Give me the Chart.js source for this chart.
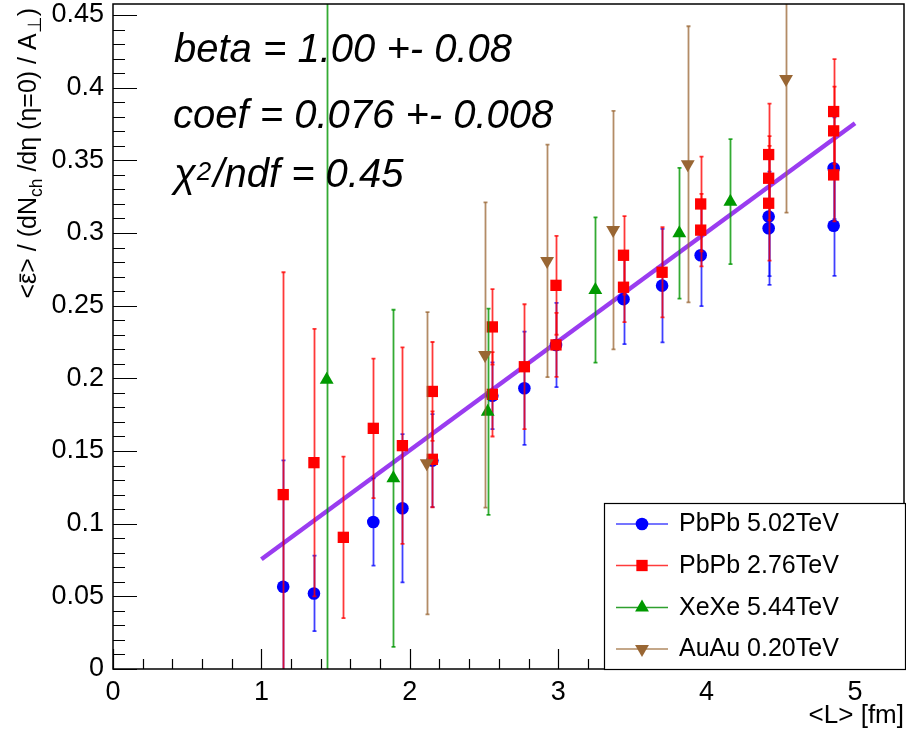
<!DOCTYPE html>
<html><head><meta charset="utf-8">
<script src="https://cdn.jsdelivr.net/npm/chart.js@4/dist/chart.umd.min.js"></script>
<style>html,body{margin:0;padding:0;background:#fff}#wrap{width:906px;height:733px;position:relative}</style>
</head><body><div id="wrap"><canvas id="c" width="906" height="733"></canvas></div>
<script>
// ---------- data ----------
const xTickValues = [0, 1, 2, 3, 4, 5];
const xTickLabels = ['0', '1', '2', '3', '4', '5'];
const yTickValues = [0, 0.05, 0.1, 0.15, 0.2, 0.25, 0.3, 0.35, 0.4, 0.45];
const yTickLabels = ['0', '0.05', '0.1', '0.15', '0.2', '0.25', '0.3', '0.35', '0.4', '0.45'];

const seriesNames = ['PbPb 5.02TeV', 'PbPb 2.76TeV', 'XeXe 5.44TeV', 'AuAu 0.20TeV'];

const pb502X = [1.147, 1.354, 1.754, 1.95, 2.152, 2.556, 2.772, 2.985, 3.44, 3.70, 3.96, 4.418, 4.418, 4.856, 4.856];
const pb502Y = [0.0566, 0.052, 0.1012, 0.1106, 0.1434, 0.188, 0.1932, 0.223, 0.2545, 0.2638, 0.2847, 0.3113, 0.3033, 0.3446, 0.305];
const pb502E = [0.087, 0.026, 0.030, 0.051, 0.032, 0.023, 0.039, 0.029, 0.031, 0.039, 0.035, 0.041, 0.039, 0.035, 0.0345];

const pb276X = [1.147, 1.354, 1.552, 1.754, 1.95, 2.152, 2.152, 2.556, 2.556, 2.772, 2.985, 2.985, 3.44, 3.44, 3.70, 3.96, 3.96, 4.418, 4.418, 4.418, 4.856, 4.856, 4.856];
const pb276Y = [0.120, 0.142, 0.0906, 0.1656, 0.1537, 0.191, 0.1443, 0.2354, 0.189, 0.208, 0.264, 0.223, 0.2847, 0.2627, 0.273, 0.320, 0.302, 0.354, 0.3377, 0.3205, 0.3836, 0.3703, 0.340];
const pb276E = [0.153, 0.092, 0.0556, 0.048, 0.0676, 0.034, 0.033, 0.026, 0.029, 0.043, 0.034, 0.022, 0.027, 0.024, 0.031, 0.0326, 0.025, 0.035, 0.029, 0.0395, 0.036, 0.0305, 0.032];

const xexeX = [1.44, 1.889, 2.525, 3.25, 3.816, 4.16];
const xexeY = [0.199, 0.1312, 0.177, 0.2608, 0.2998, 0.3216];
const xexeE = [0.30, 0.116, 0.071, 0.050, 0.045, 0.043];

const auauX = [2.114, 2.507, 2.925, 3.37, 3.873, 4.535];
const auauY = [0.1416, 0.2161, 0.2808, 0.302, 0.3473, 0.406];
const auauE = [0.104, 0.105, 0.080, 0.082, 0.095, 0.092];

const fitX = [1, 5];
const fitY = [0.0755, 0.3755];

const fitLines = ['beta = 1.00 +- 0.08', 'coef = 0.076 +- 0.008'];
const chiText = ['\u03C7', '2', '/ndf = 0.45'];

// ---------- helpers ----------
const toPts = (xs, ys) => xs.map((x, i) => ({x: x, y: ys[i]}));
const FONT = '"Liberation Sans", Arial, Helvetica, sans-serif';

const styles = [
  {mk: '#0000ff', bar: 'rgba(0,0,255,0.75)', leg: '#4747ff', ps: 'circle', r: 6.3, rot: 0},
  {mk: '#ff0000', bar: 'rgba(255,0,0,0.78)', leg: '#ff3b3b', ps: 'rect', r: 8, rot: 0},
  {mk: '#009900', bar: 'rgba(0,150,0,0.8)', leg: '#2ea02e', ps: 'triangle', r: 8, rot: 0},
  {mk: '#996633', bar: 'rgba(153,102,51,0.75)', leg: '#b08a62', ps: 'triangle', r: 8, rot: 180}
];
const seriesX = [pb502X, pb276X, xexeX, auauX];
const seriesY = [pb502Y, pb276Y, xexeY, auauY];
const seriesE = [pb502E, pb276E, xexeE, auauE];

const datasets = [];
datasets.push({
  type: 'line', label: 'fit', data: toPts(fitX, fitY), borderColor: '#9a3cf0', borderWidth: 4.5,
  pointRadius: 0, fill: false, order: 10, tension: 0
});
for (let s = 0; s < 4; s++) {
  const st = styles[s];
  datasets.push({
    type: 'scatter', label: seriesNames[s], data: toPts(seriesX[s], seriesY[s]),
    errs: seriesE[s], barColor: st.bar,
    pointStyle: st.ps, pointRadius: st.r, pointRotation: st.rot, pointHoverRadius: st.r,
    backgroundColor: st.mk, borderColor: st.mk, borderWidth: 0,
    order: 4 - s
  });
}

const errPlugin = {
  id: 'errbars',
  beforeDatasetDraw(chart, args) {
    const ds = chart.data.datasets[args.index];
    if (!ds.errs) return;
    const {ctx, chartArea: a, scales: {x, y}} = chart;
    ctx.save();
    ctx.beginPath(); ctx.rect(a.left, a.top, a.right - a.left, a.bottom - a.top); ctx.clip();
    ctx.strokeStyle = ds.barColor; ctx.lineWidth = 1.8;
    ds.data.forEach((p, i) => {
      const e = ds.errs[i];
      const px = Math.round(x.getPixelForValue(p.x)) + 0.5;
      const y1 = y.getPixelForValue(p.y + e), y2 = y.getPixelForValue(p.y - e);
      ctx.beginPath(); ctx.moveTo(px, y1); ctx.lineTo(px, y2); ctx.stroke();
      ctx.beginPath(); ctx.moveTo(px - 2, y1); ctx.lineTo(px + 2, y1);
      ctx.moveTo(px - 2, y2); ctx.lineTo(px + 2, y2); ctx.stroke();
    });
    ctx.restore();
  }
};

function drawMarker(ctx, st, cx, cy) {
  Chart.helpers.drawPoint(ctx, {pointStyle: st.ps, radius: st.r, rotation: st.rot, borderWidth: 0}, cx, cy);
}

const decoPlugin = {
  id: 'deco',
  afterDraw(chart) {
    const {ctx, chartArea: a, scales: {x, y}} = chart;
    ctx.save();
    ctx.strokeStyle = '#000'; ctx.lineWidth = 1.5;
    ctx.strokeRect(a.left, a.top, a.right - a.left, a.bottom - a.top);
    ctx.lineWidth = 1.2;
    ctx.beginPath();
    for (let k = 0; k <= 27; k++) {
      const v = k * 0.2;
      if (v > x.max) break;
      const px = Math.round(x.getPixelForValue(v)) + 0.5;
      const len = (k % 5 === 0) ? 20 : 10;
      ctx.moveTo(px, a.bottom); ctx.lineTo(px, a.bottom - len);
    }
    for (let k = 0; k <= 46; k++) {
      const v = k * 0.01;
      if (v > y.max) break;
      const py = Math.round(y.getPixelForValue(v)) + 0.5;
      const len = (k % 5 === 0) ? 24 : 12;
      ctx.moveTo(a.left, py); ctx.lineTo(a.left + len, py);
    }
    ctx.stroke();

    ctx.fillStyle = '#000';
    ctx.textBaseline = 'alphabetic'; ctx.textAlign = 'left';
    ctx.font = 'italic 40px ' + FONT;
    ctx.fillText(fitLines[0], 174, 62);
    ctx.fillText(fitLines[1], 173, 128);
    let cx = 174;
    ctx.fillText(chiText[0], cx, 187);
    cx += ctx.measureText(chiText[0]).width + 1;
    ctx.font = 'italic 26px ' + FONT;
    ctx.fillText(chiText[1], cx, 180);
    cx += ctx.measureText(chiText[1]).width + 2;
    ctx.font = 'italic 40px ' + FONT;
    ctx.fillText(chiText[2], cx, 187);

    const pieces = [
      {t: '<', s: 1, dy: 0}, {t: '\u03B5', s: 1, dy: 0, bar: true}, {t: '> / (dN', s: 1, dy: 0},
      {t: 'ch', s: 0.7, dy: 6}, {t: ' /d\u03B7 (\u03B7=0) / A', s: 1, dy: 0},
      {t: '\u22A5', s: 0.75, dy: 5}, {t: ')', s: 1, dy: 0}
    ];
    const fs = 25;
    let W = 0;
    pieces.forEach(p => { ctx.font = (fs * p.s) + 'px ' + FONT; p.w = ctx.measureText(p.t).width; W += p.w; });
    ctx.save();
    ctx.translate(36, 8 + W);
    ctx.rotate(-Math.PI / 2);
    let tx = 0;
    pieces.forEach(p => {
      ctx.font = (fs * p.s) + 'px ' + FONT;
      ctx.fillText(p.t, tx, p.dy);
      if (p.bar) ctx.fillRect(tx + 2, -fs * 0.66, p.w - 3, 1.6);
      tx += p.w;
    });
    ctx.restore();

    const lx = 604, ly = 503, lw = 301, lh = a.bottom - 503;
    ctx.fillStyle = '#fff'; ctx.fillRect(lx, ly, lw, lh);
    ctx.strokeStyle = '#000'; ctx.lineWidth = 1.2;
    ctx.strokeRect(lx + 0.5, ly + 0.5, lw, lh);
    const rows = [523.5, 565, 607, 648.5];
    ctx.font = '25px ' + FONT; ctx.textBaseline = 'middle';
    for (let s = 0; s < 4; s++) {
      const st = styles[s];
      ctx.strokeStyle = st.leg; ctx.lineWidth = 1.6;
      ctx.beginPath(); ctx.moveTo(616, rows[s] + 0.5); ctx.lineTo(668, rows[s] + 0.5); ctx.stroke();
      ctx.fillStyle = st.mk;
      drawMarker(ctx, st, 642, rows[s] + 0.5);
      ctx.fillStyle = '#000';
      ctx.fillText(seriesNames[s], 679, rows[s] + 1);
    }
    ctx.restore();
  }
};

new Chart(document.getElementById('c'), {
  data: {datasets: datasets},
  options: {
    responsive: false, animation: false, devicePixelRatio: 1,
    layout: {autoPadding: false, padding: {left: 0, top: 4, right: 2, bottom: 0}},
    plugins: {legend: {display: false}, tooltip: {enabled: false}},
    events: [],
    scales: {
      x: {
        type: 'linear', min: 0, max: 5.33,
        grid: {display: false, drawTicks: false}, border: {display: false},
        afterBuildTicks: s => { s.ticks = xTickValues.map(v => ({value: v})); },
        afterFit: s => { s.height = 64; s.paddingLeft = 0; s.paddingRight = 0; },
        ticks: {autoSkip: false, maxRotation: 0, padding: 7, color: '#000',
          font: {family: FONT, size: 27}, callback: (v, i) => xTickLabels[i]},
        title: {display: true, text: '<L> [fm]', align: 'end', color: '#000',
          font: {family: FONT, size: 26}, padding: {top: 0, bottom: 2}}
      },
      y: {
        type: 'linear', min: 0, max: 0.4576,
        grid: {display: false, drawTicks: false}, border: {display: false},
        afterBuildTicks: s => { s.ticks = yTickValues.map(v => ({value: v})); },
        afterFit: s => { s.width = 113; s.paddingTop = 0; s.paddingBottom = 0; },
        ticks: {autoSkip: false, padding: 9, color: '#000',
          font: {family: FONT, size: 27}, callback: (v, i) => yTickLabels[i]}
      }
    }
  },
  plugins: [errPlugin, decoPlugin]
});
</script>
</body></html>
